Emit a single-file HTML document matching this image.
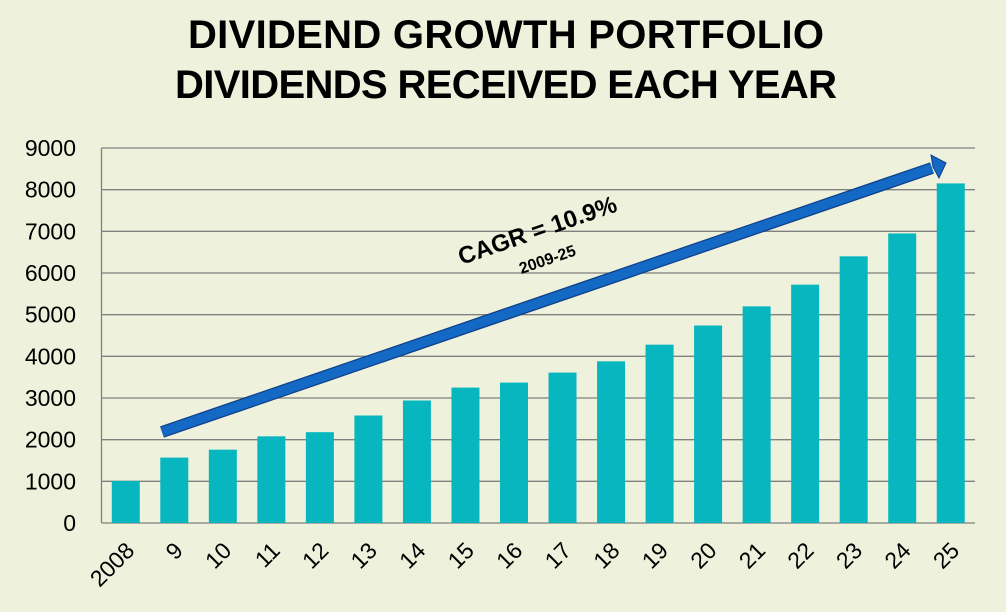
<!DOCTYPE html>
<html><head><meta charset="utf-8"><style>
body{margin:0;background:#eef2dc;}
svg{display:block;font-family:"Liberation Sans",Arial,sans-serif;}
</style></head><body>
<svg width="1006" height="612">
<rect width="1006" height="612" fill="#eef2dc"/>
<text x="506" y="48" text-anchor="middle" font-size="40" font-weight="bold" fill="#000" textLength="636">DIVIDEND GROWTH PORTFOLIO</text>
<text x="506" y="98" text-anchor="middle" font-size="40" font-weight="bold" fill="#000" textLength="662">DIVIDENDS RECEIVED EACH YEAR</text>
<g id="grid"></g><g id="bars"></g><g id="labels"></g>
<g>
<line x1="162" y1="432" x2="932" y2="168" stroke="#0e3f8a" stroke-width="12"/>
<line x1="162" y1="432" x2="932" y2="168" stroke="#1469c4" stroke-width="9.5"/>
<polygon points="946,163 931,155 933,167 939,178" fill="#1469c4" stroke="#0e3f8a" stroke-width="1"/>
</g>
<g transform="translate(540,238) rotate(-19)">
<text x="0" y="0" text-anchor="middle" font-size="24" font-weight="bold">CAGR = 10.9%</text>
<text x="0" y="28" text-anchor="middle" font-size="16" font-weight="bold">2009-25</text>
</g>
</svg>
<script>
const categories=["2008","9","10","11","12","13","14","15","16","17","18","19","20","21","22","23","24","25"];
const values=[1010,1570,1760,2080,2180,2580,2940,3250,3370,3610,3880,4280,4740,5200,5720,6400,6950,8150];
const yTicks=[0,1000,2000,3000,4000,5000,6000,7000,8000,9000];
const NS="http://www.w3.org/2000/svg";
const L=101.5,R=975,T=148,B=523,MAX=9000;
const slot=(R-L)/categories.length;
const y=v=>B-(v/MAX)*(B-T);
const xc=i=>L+slot*(i+0.5);
function mk(t,a,p){const e=document.createElementNS(NS,t);for(const k in a)e.setAttribute(k,a[k]);p.appendChild(e);return e;}
const g=document.getElementById('grid'),gb=document.getElementById('bars'),gl=document.getElementById('labels');
yTicks.forEach(v=>{
 const ln=mk('line',{x1:L,x2:R,y1:y(v),y2:y(v),stroke:'#808080','stroke-width':1.3},g);
 
 
 const t=mk('text',{x:76,y:y(v)+8,'text-anchor':'end','font-size':23,fill:'#000'},gl);
 t.textContent=v;
 
 
});
const ax=mk('line',{x1:L,x2:L,y1:T,y2:B,stroke:'#808080','stroke-width':1.3},g);


categories.forEach((c,i)=>{
 const bw=28;
 const r=mk('rect',{x:xc(i)-bw/2,y:y(values[i]),width:bw,height:B-y(values[i]),fill:'#08b6bf'},gb);
 
 
 const t=mk('text',{x:0,y:0,'text-anchor':'end','font-size':23,fill:'#000',transform:`translate(${xc(i)+10},${552}) rotate(-45)`},gl);
 t.textContent=c;
 
 
});
</script>
</body></html>
